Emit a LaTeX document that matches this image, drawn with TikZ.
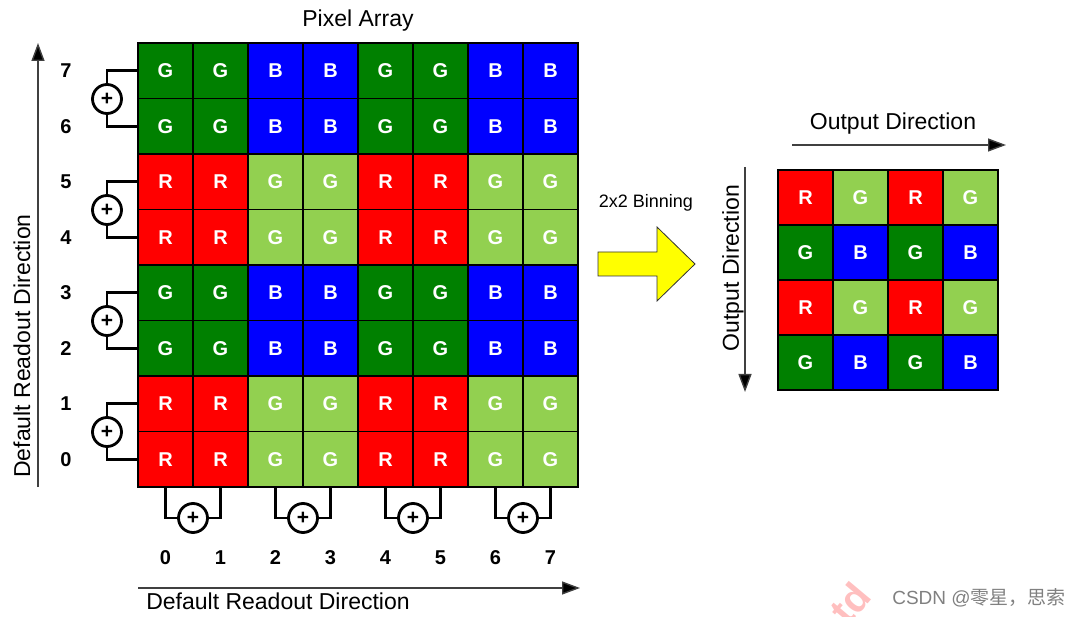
\documentclass[tikz,border=0pt]{standalone}
\usepackage{fontspec}
\setmainfont{Liberation Sans}
\newfontfamily\cjkfont{Noto Sans CJK SC}
\usetikzlibrary{arrows.meta}

\definecolor{pxred}{RGB}{255,0,0}
\definecolor{pxdkg}{RGB}{0,128,0}
\definecolor{pxblu}{RGB}{0,0,255}
\definecolor{pxltg}{RGB}{146,208,80}
\definecolor{binyel}{RGB}{255,255,0}

\begin{document}
\begin{tikzpicture}[
  x=1pt, y=-1pt,
  cell/.style ={draw=black, line width=1.1pt, inner sep=0pt,
                minimum width=55pt, minimum height=55.5pt, text=white,
                font=\fontsize{20}{20}\selectfont\bfseries},
  ocell/.style={cell, minimum height=55pt},
  num/.style  ={font=\fontsize{20}{20}\selectfont\bfseries},
  lbl/.style  ={font=\fontsize{23}{23}\selectfont},
  sum/.style  ={draw, circle, line width=2.8pt, fill=white, minimum size=29pt,
                inner sep=0pt, font=\fontsize{21}{21}\selectfont\bfseries},
  wire/.style ={line width=2.8pt},
  axis/.style ={draw=black!75, line width=1.4pt,
                -{Triangle[length=18pt, width=13pt, fill=black]}}
]
\useasboundingbox (0,0) rectangle (1079,617);

% pixel array, rows 7..0
\foreach \r/\ca/\la/\cb/\lb in {7/pxdkg/G/pxblu/B, 6/pxdkg/G/pxblu/B,
    5/pxred/R/pxltg/G, 4/pxred/R/pxltg/G, 3/pxdkg/G/pxblu/B,
    2/pxdkg/G/pxblu/B, 1/pxred/R/pxltg/G, 0/pxred/R/pxltg/G} {
  \foreach \c in {0,...,7} {
    \pgfmathtruncatemacro\side{mod(floor(\c/2),2)}
    \ifnum\side=0 \def\fc{\ca}\def\lt{\la}\else \def\fc{\cb}\def\lt{\lb}\fi
    \node[cell, fill=\fc] (p\r\c) at (165.5+55*\c, 70.75+55.5*7-55.5*\r) {\lt};
  }
  \node[num] (row\r) at (66, 70.75+55.5*7-55.5*\r) {\r};
}
\foreach \c in {0,...,7}
  \node[num] (col\c) at (165.5+55*\c, 558) {\c};

\node[lbl] (title) at (358, 21) {Pixel Array};

% row binning adders
\foreach \k/\ra/\rb in {0/1/0, 1/3/2, 2/5/4, 3/7/6} {
  \node[sum] (suml\k) at (107, 432-111*\k) {+};
  \draw[wire] (p\ra0.west) -| (suml\k.north);
  \draw[wire] (suml\k.south) |- (p\rb0.west);
}
% column binning adders
\foreach \k/\ca/\cb in {0/0/1, 1/2/3, 2/4/5, 3/6/7} {
  \node[sum] (sumb\k) at (193+110*\k, 518) {+};
  \draw[wire] (p0\ca.south) |- (sumb\k.west);
  \draw[wire] (p0\cb.south) |- (sumb\k.east);
}

% default readout axes
\coordinate (vbot) at (38, 487);
\coordinate (vtop) at (38, 43);
\draw[axis] (vbot) -- (vtop);
\node[lbl, rotate=90] (vlbl) at (22, 346) {Default Readout Direction};
\coordinate (hleft) at (138, 588);
\coordinate (hright) at (580, 588);
\draw[axis] (hleft) -- (hright);
\node[lbl] (hlbl) at (278, 601) {Default Readout Direction};

% binning arrow
\node[font=\fontsize{18}{18}\selectfont] (binlbl) at (646, 203) {2x2 Binning};
\draw[fill=binyel, draw=black!80, line width=0.8pt]
  (598,252) -- (657,252) -- (657,227) -- (695,264) -- (657,301)
  -- (657,276) -- (598,276) -- cycle;

% binned output
\foreach \r/\ca/\la/\cb/\lb in {0/pxred/R/pxltg/G, 1/pxdkg/G/pxblu/B,
    2/pxred/R/pxltg/G, 3/pxdkg/G/pxblu/B} {
  \foreach \c in {0,...,3} {
    \ifodd\c \def\fc{\cb}\def\lt{\lb}\else \def\fc{\ca}\def\lt{\la}\fi
    \node[ocell, fill=\fc] (o\r\c) at (805.5+55*\c, 197.5+55*\r) {\lt};
  }
}
\coordinate (oleft) at (792, 145);
\coordinate (oright) at (1006, 145);
\draw[axis] (oleft) -- (oright);
\node[lbl] (olbl) at (893, 124) {Output Direction};
\coordinate (otop) at (745, 167);
\coordinate (obot) at (745, 392);
\draw[axis] (otop) -- (obot);
\node[lbl, rotate=90] (ovlbl) at (733, 268) {Output Direction};

% watermark
\node[text=red!25, rotate=50, font=\fontsize{40}{40}\selectfont\bfseries]
  (wmark) at (850, 603) {td};
\node[text=black!50, font=\fontsize{19}{19}\selectfont] (csdn) at (979, 598)
  {CSDN @{\cjkfont 零星，思索}};
\end{tikzpicture}
\end{document}
